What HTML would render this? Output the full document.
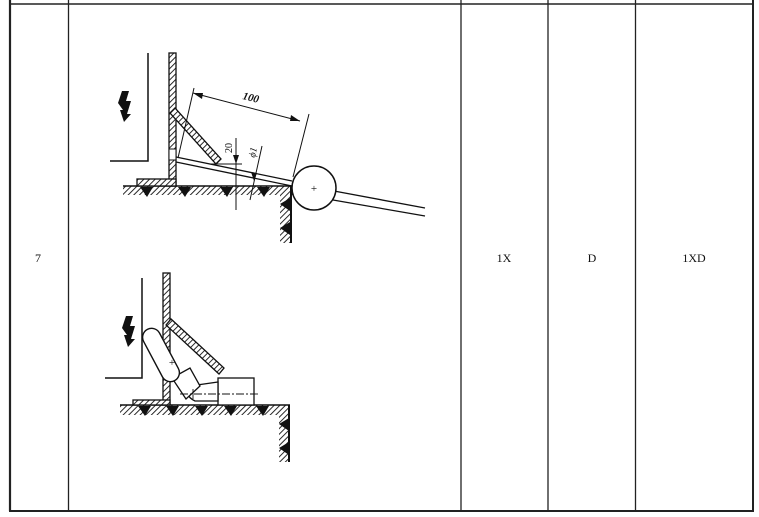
<!DOCTYPE html>
<html><head><meta charset="utf-8"><style>
html,body{margin:0;padding:0;background:#fff;width:759px;height:517px;overflow:hidden}
svg{display:block}
text{font-family:"Liberation Serif",serif;fill:#111}
</style></head><body>
<svg width="759" height="517" viewBox="0 0 759 517" xmlns="http://www.w3.org/2000/svg">
<defs>
<pattern id="h" patternUnits="userSpaceOnUse" width="4" height="4" patternTransform="rotate(45)">
<rect width="4" height="4" fill="#fff"/><line x1="0" y1="0" x2="0" y2="4" stroke="#111" stroke-width="1.8"/>
</pattern>
</defs>
<g stroke="#222" fill="none">
<line x1="10" y1="0" x2="10" y2="511" stroke-width="2.2"/>
<line x1="753" y1="0" x2="753" y2="511" stroke-width="2"/>
<line x1="68.5" y1="0" x2="68.5" y2="511" stroke-width="1.3"/>
<line x1="461" y1="0" x2="461" y2="511" stroke-width="1.3"/>
<line x1="548" y1="0" x2="548" y2="511" stroke-width="1.3"/>
<line x1="635.5" y1="0" x2="635.5" y2="511" stroke-width="1.3"/>
<line x1="10" y1="4" x2="753" y2="4" stroke-width="1.5"/>
<line x1="9" y1="511" x2="754" y2="511" stroke-width="2"/>
</g>
<text x="38" y="262" font-size="12" text-anchor="middle">7</text>
<text x="504" y="262" font-size="12" text-anchor="middle">1X</text>
<text x="592" y="262" font-size="12" text-anchor="middle">D</text>
<text x="694" y="262" font-size="12" text-anchor="middle">1XD</text>

<!-- TOP DRAWING -->
<polyline points="148,53 148,161 110,161" stroke="#111" stroke-width="1.5" fill="none"/>
<path d="M122,91 L129,91 L126,101 L131,101 L127,114 L131,114 L124,122 L120,110 L123,110 L118,103 Z" fill="#111"/>
<rect x="123" y="186" width="170" height="9" fill="url(#h)"/>
<rect x="280" y="186" width="11" height="57" fill="url(#h)"/>
<g fill="#111">
<polygon points="140,187 153,187 147,197"/><polygon points="178,187 191,187 185,197"/>
<polygon points="220,187 233,187 227,197"/><polygon points="257,187 270,187 264,197"/>
<polygon points="280,204 290,198 290,211"/><polygon points="280,228 290,222 290,235"/>
</g>
<line x1="123" y1="186" x2="293" y2="186" stroke="#111" stroke-width="1.5"/>
<line x1="291" y1="186" x2="291" y2="243" stroke="#111" stroke-width="2"/>
<rect x="169" y="53" width="7" height="133" fill="url(#h)" stroke="#111" stroke-width="1.3"/>
<rect x="169" y="149" width="7" height="11" fill="#fff" stroke="#111" stroke-width="1"/>
<rect x="137" y="179" width="39" height="7" fill="url(#h)" stroke="#111" stroke-width="1.3"/>
<polygon points="170,113 175,108 221,159 216,164" fill="url(#h)" stroke="#111" stroke-width="1.3"/>
<g stroke="#111" stroke-width="1.3">
<line x1="176" y1="157" x2="292" y2="181"/>
<line x1="176" y1="162" x2="292" y2="186"/>
<line x1="334" y1="191" x2="425" y2="208"/>
<line x1="333" y1="200" x2="425" y2="216"/>
</g>
<circle cx="314" cy="188" r="22" fill="#fff" stroke="#111" stroke-width="1.5"/>
<text x="314" y="192" font-size="11" text-anchor="middle">+</text>
<g stroke="#111" stroke-width="1">
<line x1="178" y1="158" x2="194" y2="88"/>
<line x1="293" y1="177" x2="309" y2="114"/>
<line x1="193" y1="93" x2="300" y2="121"/>
<line x1="210" y1="164" x2="242" y2="164"/>
<line x1="236" y1="138" x2="236" y2="210"/>
<line x1="262" y1="146" x2="250" y2="200"/>
</g>
<g fill="#111">
<polygon points="193,93 203,93 202,99"/><polygon points="300,121 290,121 291,115"/>
<polygon points="236,164 233,155 239,155"/><polygon points="254,181 251,172 257,173"/>
</g>
<text x="250" y="101" font-size="11" font-style="italic" font-weight="bold" text-anchor="middle" transform="rotate(14 250 101)">100</text>
<text x="232" y="148" font-size="10" text-anchor="middle" transform="rotate(-90 232 148)">20</text>
<text x="256" y="153" font-size="10" font-style="italic" text-anchor="middle" transform="rotate(-78 256 153)">ϕ1</text>

<!-- BOTTOM DRAWING -->
<polyline points="142,278 142,378 105,378" stroke="#111" stroke-width="1.5" fill="none"/>
<path d="M126,316 L133,316 L130,326 L135,326 L131,339 L135,339 L128,347 L124,335 L127,335 L122,328 Z" fill="#111"/>
<rect x="120" y="405" width="170" height="10" fill="url(#h)"/>
<rect x="279" y="405" width="10" height="57" fill="url(#h)"/>
<g fill="#111">
<polygon points="138,406 151,406 145,416"/><polygon points="166,406 179,406 173,416"/>
<polygon points="195,406 208,406 202,416"/><polygon points="224,406 237,406 231,416"/>
<polygon points="256,406 269,406 263,416"/>
<polygon points="279,424 289,418 289,431"/><polygon points="279,448 289,442 289,455"/>
</g>
<line x1="120" y1="405" x2="290" y2="405" stroke="#111" stroke-width="1.5"/>
<line x1="289" y1="405" x2="289" y2="462" stroke="#111" stroke-width="2"/>
<rect x="163" y="273" width="7" height="132" fill="url(#h)" stroke="#111" stroke-width="1.3"/>
<rect x="163" y="366" width="7" height="10" fill="#fff" stroke="#111" stroke-width="1"/>
<rect x="133" y="400" width="37" height="5" fill="url(#h)" stroke="#111" stroke-width="1.3"/>
<polygon points="166,325 171,319 224,368 219,374" fill="url(#h)" stroke="#111" stroke-width="1.3"/>
<rect x="218" y="378" width="36" height="27" fill="#fff" stroke="#111" stroke-width="1.3"/>
<path d="M190,386 L218,382 L218,401 L195,401 Q184,396 190,386 Z" fill="#fff" stroke="#111" stroke-width="1.3"/>
<path d="M172,378 L186,399 L200,386 L190,368 Z" fill="#fff" stroke="#111" stroke-width="1.3"/>
<rect x="152" y="326" width="18" height="58" rx="9" fill="#fff" stroke="#111" stroke-width="1.4" transform="rotate(-28 161 355)"/>
<text x="172" y="366" font-size="11" text-anchor="middle">+</text>
<line x1="180" y1="394" x2="258" y2="394" stroke="#111" stroke-width="0.9" stroke-dasharray="8,2,2,2"/>
<line x1="193" y1="389" x2="193" y2="399" stroke="#111" stroke-width="0.9"/>
</svg>
</body></html>
